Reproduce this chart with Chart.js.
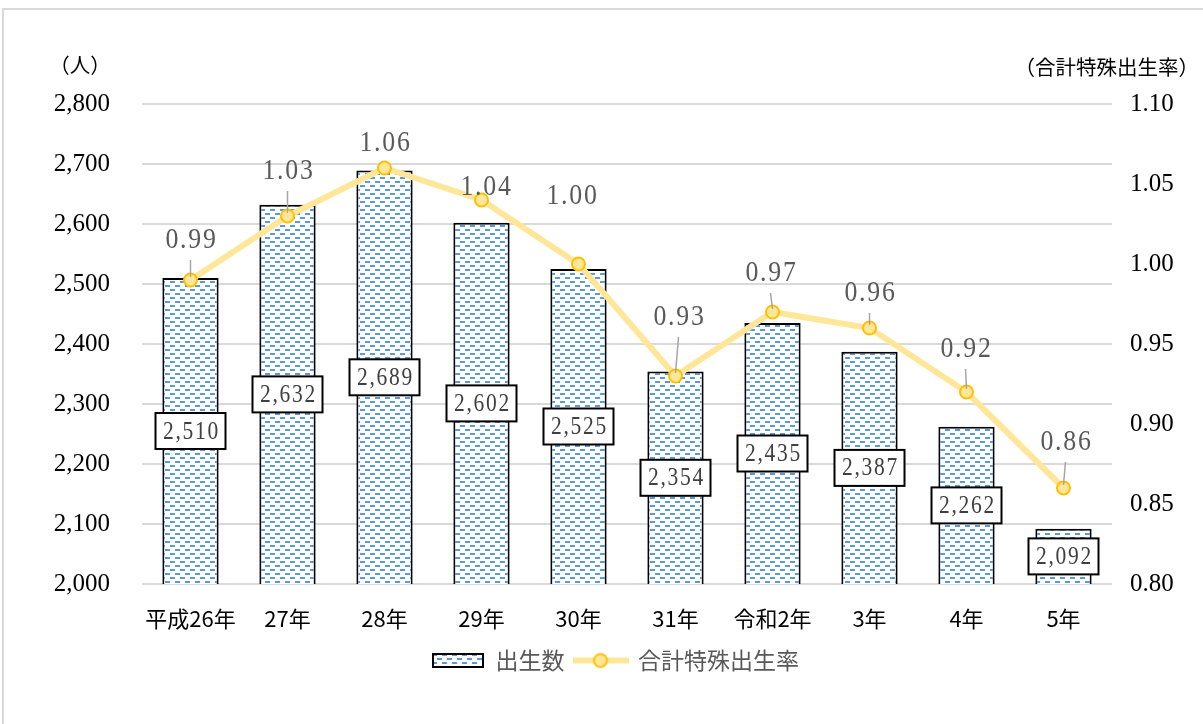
<!DOCTYPE html>
<html lang="ja">
<head>
<meta charset="utf-8">
<script src="https://cdn.jsdelivr.net/npm/chart.js@4.4.1/dist/chart.umd.min.js"></script>
<style>
  html, body { margin: 0; padding: 0; background: #fff; overflow: hidden; }
  #frame { position: absolute; left: 2px; top: 8px; width: 1400px; height: 900px;
           border-left: 2px solid #d9d9d9; border-top: 2px solid #d9d9d9; }
  #chart { position: absolute; left: 0; top: 0; }
</style>
</head>
<body>
<div id="frame"></div>
<canvas id="chart" width="1203" height="724"></canvas>
<script>
// ---- data ----
const years = ['平成26年', '27年', '28年', '29年', '30年', '31年', '令和2年', '3年', '4年', '5年'];
const births = [2510, 2632, 2689, 2602, 2525, 2354, 2435, 2387, 2262, 2092];
const fertility = [0.99, 1.03, 1.06, 1.04, 1.00, 0.93, 0.97, 0.96, 0.92, 0.86];
const seriesNames = ['出生数', '合計特殊出生率'];
const axisTitles = ['（人）', '（合計特殊出生率）'];

// label placement for the rate labels (px right, px above the point) and leader flags
const rateLabelShift = [[0, 40], [0, 45], [0, 25], [4, 13], [-7, 68], [3, 59], [-2, 39], [0, 35], [-1, 43], [2, 46]];
const rateLeader = [1, 1, 0, 0, 0, 1, 1, 1, 1, 1];

const NUM_FONT = '"Liberation Serif", "DejaVu Serif", serif';
const JP_FONT = '"Noto Sans CJK JP", "Noto Sans", sans-serif';

// dotted-dash fill used by the bars
function makePattern(ctx) {
    const tile = document.createElement('canvas');
    tile.width = 10;
    tile.height = 8;
    const t = tile.getContext('2d');
    t.fillStyle = '#ffffff';
    t.fillRect(0, 0, 10, 8);
    t.fillStyle = '#5b9bd5';
    t.fillRect(0, 1, 5, 2);
    t.fillRect(5, 5, 5, 2);
    return ctx.createPattern(tile, 'repeat');
}

function barIcon() {
    const c = document.createElement('canvas');
    c.width = 52;
    c.height = 15;
    const g = c.getContext('2d');
    g.fillStyle = makePattern(g);
    g.fillRect(0, 0, 52, 15);
    g.strokeStyle = '#000';
    g.lineWidth = 2;
    g.strokeRect(1, 1, 50, 13);
    return c;
}

function lineIcon() {
    const c = document.createElement('canvas');
    c.width = 56;
    c.height = 18;
    const g = c.getContext('2d');
    g.strokeStyle = '#ffe699';
    g.lineWidth = 6;
    g.beginPath();
    g.moveTo(0, 9);
    g.lineTo(56, 9);
    g.stroke();
    g.beginPath();
    g.arc(28, 9, 6.5, 0, Math.PI * 2);
    g.fillStyle = '#ffe699';
    g.fill();
    g.strokeStyle = '#ffc000';
    g.lineWidth = 2;
    g.stroke();
    return c;
}

const legendIcons = [barIcon(), lineIcon()];

function condensedText(ctx, text, x, y) {
    ctx.save();
    ctx.translate(x, y);
    ctx.scale(0.86, 1);
    ctx.letterSpacing = '2px';
    ctx.fillText(text, 0, 0);
    ctx.restore();
}

// boxed value labels in the middle of each bar, then the rate labels above the points
const valueLabels = {
    id: 'valueLabels',
    afterDatasetsDraw(chart) {
        const ctx = chart.ctx;
        const yScale = chart.scales.y;
        const y1Scale = chart.scales.y1;
        const xScale = chart.scales.x;
        ctx.save();
        ctx.textAlign = 'center';
        ctx.textBaseline = 'middle';

        ctx.font = '25px ' + NUM_FONT;
        births.forEach((v, i) => {
            const cx = xScale.getPixelForValue(i);
            const cy = (yScale.getPixelForValue(v) + yScale.bottom) / 2;
            ctx.fillStyle = '#fff';
            ctx.fillRect(cx - 35, cy - 18, 70, 36);
            ctx.strokeStyle = '#000';
            ctx.lineWidth = 2;
            ctx.strokeRect(cx - 35, cy - 18, 70, 36);
            ctx.fillStyle = '#404040';
            condensedText(ctx, v.toLocaleString('en-US'), cx + 1, cy + 1);
        });

        ctx.font = '30px ' + NUM_FONT;
        fertility.forEach((v, i) => {
            const px = xScale.getPixelForValue(i);
            const py = y1Scale.getPixelForValue(v);
            const [dx, dy] = rateLabelShift[i];
            const lx = px + dx;
            const ly = py - dy;
            if (rateLeader[i]) {
                ctx.strokeStyle = '#a6a6a6';
                ctx.lineWidth = 1.5;
                ctx.beginPath();
                ctx.moveTo(lx, ly + 20);
                ctx.lineTo(px, py - 3);
                ctx.stroke();
            }
            ctx.fillStyle = '#595959';
            condensedText(ctx, v.toFixed(2), lx + 1, ly);
        });
        ctx.restore();
    }
};

// unit captions above both value axes
const axisCaptions = {
    id: 'axisCaptions',
    afterDraw(chart) {
        const ctx = chart.ctx;
        const area = chart.chartArea;
        ctx.save();
        ctx.font = '20.5px ' + JP_FONT;
        ctx.fillStyle = '#000';
        ctx.textBaseline = 'middle';
        ctx.textAlign = 'center';
        ctx.fillText(axisTitles[0], area.left - 62, area.top - 39);
        ctx.textAlign = 'right';
        ctx.fillText(axisTitles[1], area.right + 87, area.top - 37);
        ctx.restore();
    }
};

const canvas = document.getElementById('chart');
const ctx = canvas.getContext('2d');

new Chart(ctx, {
    type: 'bar',
    data: {
        labels: years,
        datasets: [{
            type: 'bar',
            label: seriesNames[0],
            data: births,
            yAxisID: 'y',
            backgroundColor: makePattern(ctx),
            borderColor: '#000',
            borderWidth: 2,
            borderSkipped: false,
            barPercentage: 0.58,
            categoryPercentage: 1,
            order: 2
        }, {
            type: 'line',
            label: seriesNames[1],
            data: fertility,
            yAxisID: 'y1',
            borderColor: '#ffe699',
            borderWidth: 6,
            tension: 0,
            pointRadius: 6.5,
            pointBackgroundColor: '#ffe699',
            pointBorderColor: '#ffc000',
            pointBorderWidth: 2,
            order: 1
        }]
    },
    options: {
        responsive: false,
        animation: false,
        layout: { padding: { left: 28, right: 0, top: 104, bottom: 42 } },
        scales: {
            x: {
                grid: { display: false },
                border: { display: false },
                ticks: {
                    color: '#000',
                    padding: 13,
                    maxRotation: 0,
                    font: { family: JP_FONT, size: 22 }
                },
                afterFit: s => { s.height = 55; }
            },
            y: {
                position: 'left',
                min: 2000,
                max: 2800,
                grid: { color: '#d9d9d9', lineWidth: 2, drawTicks: false },
                border: { display: false },
                ticks: {
                    stepSize: 100,
                    color: '#000',
                    padding: 32,
                    font: { family: NUM_FONT, size: 25 },
                    callback: v => v.toLocaleString('en-US')
                },
                afterFit: s => { s.width = 114; }
            },
            y1: {
                position: 'right',
                min: 0.8,
                max: 1.1,
                grid: { display: false, drawTicks: false },
                border: { display: false },
                ticks: {
                    stepSize: 0.05,
                    color: '#000',
                    padding: 18,
                    font: { family: NUM_FONT, size: 25 },
                    callback: v => Number(v).toFixed(2)
                },
                afterFit: s => { s.width = 91; }
            }
        },
        plugins: {
            tooltip: { enabled: false },
            legend: {
                position: 'bottom',
                labels: {
                    usePointStyle: true,
                    pointStyleWidth: 52,
                    padding: 10,
                    color: '#595959',
                    font: { family: JP_FONT, size: 23 },
                    generateLabels: chart => chart.data.datasets.map((ds, i) => ({
                        text: ds.label,
                        pointStyle: legendIcons[i],
                        datasetIndex: i,
                        hidden: false,
                        lineWidth: 0,
                        fillStyle: 'transparent',
                        strokeStyle: 'transparent',
                        fontColor: '#595959'
                    }))
                }
            }
        }
    },
    plugins: [valueLabels, axisCaptions]
});
</script>
</body>
</html>
